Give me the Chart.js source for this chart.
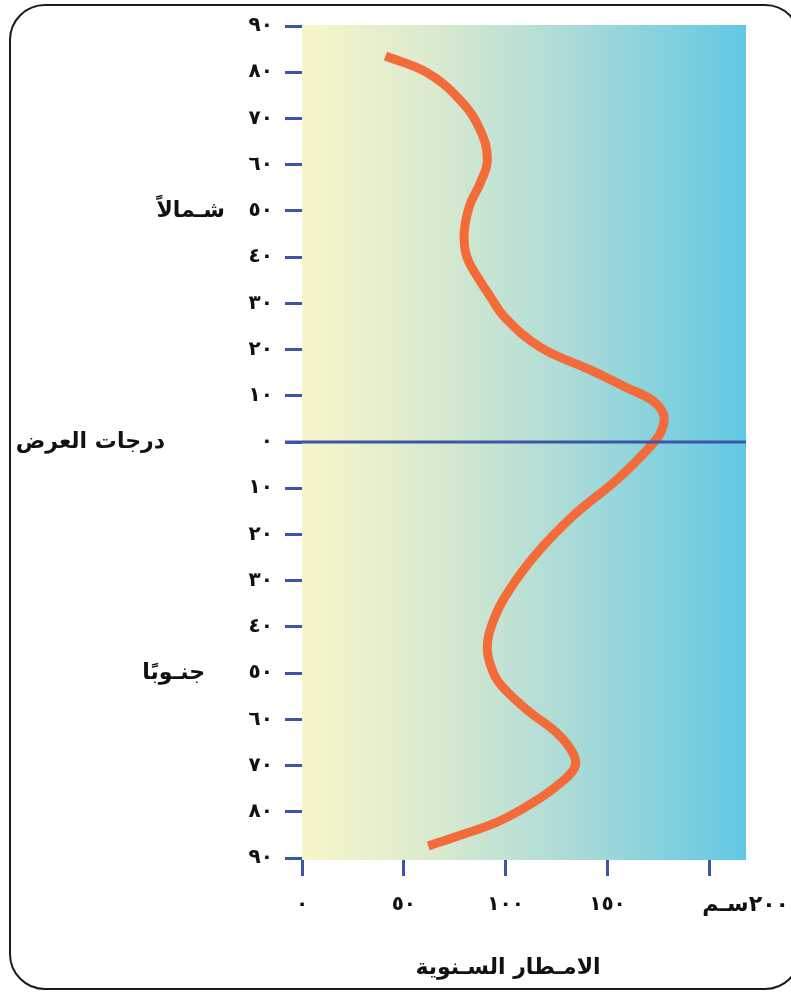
<!DOCTYPE html>
<html lang="ar">
<head>
<meta charset="utf-8">
<script src="https://cdn.jsdelivr.net/npm/chart.js@4/dist/chart.umd.min.js"></script>
<style>
  html, body { margin: 0; padding: 0; background: #fff; overflow: hidden; }
  #frame {
    position: absolute; left: 9px; top: 4px;
    width: 788px; height: 982px;
    border: 2.5px solid #1c1c1c; border-radius: 36px;
  }
  #chart { position: absolute; left: 0; top: 0; }
</style>
</head>
<body>
<div id="frame"></div>
<canvas id="chart" width="791" height="994"></canvas>
<script>
// خطوط العرض (موجب = شمال، سالب = جنوب) والأمطار السنوية بالسم
const latitudes = [83.5, 80, 74, 67.5, 61, 56, 51, 45, 40, 35, 31.5, 27, 20.5, 15.6, 11.7, 9, 6, 3, 0,
  -8, -16, -25, -34, -40.5, -45, -50, -53, -58, -63, -67.3, -70.3, -73.8, -78, -82, -84.6, -87.4];
const rainfall = [41, 61, 77.6, 87.5, 91, 87.5, 82.2, 79.6, 81, 87.2, 92.4, 99.5, 117, 141.5, 159.7, 172, 177.5, 177, 173,
  155, 133, 113.5, 99, 92.5, 91, 94, 98.5, 110.6, 125.3, 133, 134, 126.8, 113.5, 97, 81, 62];

const rainTicks = [0, 50, 100, 150, 200];
const rainUnitLabel = "٢٠٠سـم";
const northLabel = "شـمالاً";
const southLabel = "جنـوبًا";
const latTitle = "درجات العرض";
const rainTitle = "الامـطار السـنوية";

const blue = "#3d55a6";
const orange = "#f26b38";
const font = "'DejaVu Sans', sans-serif";

// يحول الأرقام إلى أرقام عربية مشرقية
function arabicDigits(n) {
  return String(n).replace(/[0-9]/g, d => "٠١٢٣٤٥٦٧٨٩"[d]);
}

// خلفية متدرجة داخل منطقة الرسم
const gradientBg = {
  id: "gradientBg",
  beforeDatasetsDraw(chart) {
    const { ctx, chartArea: a } = chart;
    const g = ctx.createLinearGradient(a.left, 0, a.right, 0);
    g.addColorStop(0, "#f8f6c9");
    g.addColorStop(0.3, "#d9eacf");
    g.addColorStop(0.6, "#acdbd7");
    g.addColorStop(1, "#62c8e4");
    ctx.save();
    ctx.fillStyle = g;
    ctx.fillRect(a.left, a.top - 1, a.right - a.left, a.bottom - a.top + 3);
    ctx.restore();
  }
};

// خط الاستواء والنصوص
const extras = {
  id: "extras",
  afterDatasetsDraw(chart) {
    const { ctx, chartArea: a } = chart;
    const y0 = chart.scales.y.getPixelForValue(0);
    ctx.save();
    ctx.strokeStyle = blue;
    ctx.lineWidth = 3;
    ctx.beginPath();
    ctx.moveTo(a.left - 17, y0);
    ctx.lineTo(a.right, y0);
    ctx.stroke();
    ctx.restore();
  },
  afterDraw(chart) {
    const { ctx } = chart;
    const ys = chart.scales.y, xs = chart.scales.x;
    ctx.save();
    ctx.fillStyle = "#111";
    ctx.direction = "rtl";
    ctx.textBaseline = "middle";
    ctx.font = "bold 22px " + font;
    ctx.textAlign = "right";
    ctx.fillText(northLabel, 225, ys.getPixelForValue(50));
    ctx.fillText(southLabel, 205, ys.getPixelForValue(-50));
    ctx.fillText(latTitle, 165, ys.getPixelForValue(0));
    ctx.textAlign = "center";
    ctx.fillText(rainTitle, 508, 968);
    ctx.textAlign = "left";
    ctx.fillText(rainUnitLabel, xs.getPixelForValue(200) - 7, 905);
    ctx.restore();
  }
};

new Chart(document.getElementById("chart"), {
  type: "line",
  data: {
    datasets: [{
      data: latitudes.map((lat, i) => ({ x: rainfall[i], y: lat })),
      borderColor: orange,
      borderWidth: 9,
      pointRadius: 0,
      fill: false,
      tension: 0.4,
      borderCapStyle: "butt"
    }]
  },
  options: {
    indexAxis: "y",
    responsive: false,
    animation: false,
    layout: { padding: { top: 26, right: 45, left: 0, bottom: 0 } },
    plugins: { legend: { display: false }, tooltip: { enabled: false } },
    scales: {
      y: {
        type: "linear",
        min: -90, max: 90,
        border: { display: false },
        grid: { drawOnChartArea: false, tickLength: 17, tickColor: blue, tickWidth: 3, lineWidth: 3 },
        ticks: {
          stepSize: 10, padding: 12, color: "#111",
          font: { family: font, size: 20, weight: "bold" },
          callback: v => arabicDigits(Math.abs(v))
        },
        afterFit: s => { s.width = 302; }
      },
      x: {
        type: "linear",
        min: 0, max: 218,
        border: { display: false },
        grid: { drawOnChartArea: false, tickLength: 18, tickColor: blue, tickWidth: 3, lineWidth: 3 },
        afterBuildTicks: s => { s.ticks = rainTicks.map(v => ({ value: v })); },
        ticks: {
          autoSkip: false, maxRotation: 0, padding: 17,
          color: c => c.tick && c.tick.value === 200 ? "rgba(0,0,0,0)" : "#111",
          font: { family: font, size: 20, weight: "bold" },
          callback: v => arabicDigits(v)
        },
        afterFit: s => { s.height = 136; }
      }
    }
  },
  plugins: [gradientBg, extras]
});
</script>
</body>
</html>
